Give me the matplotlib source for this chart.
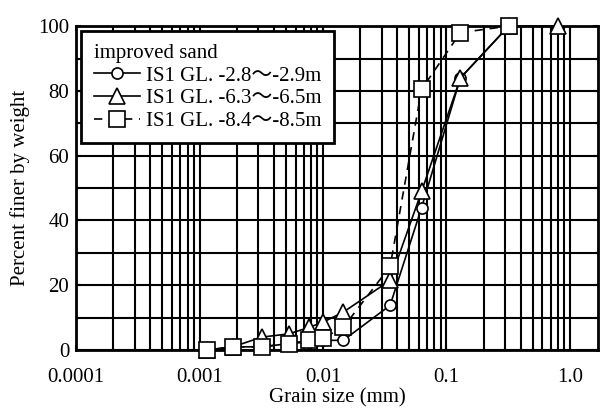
import matplotlib.pyplot as plt
from matplotlib.ticker import FixedLocator, FixedFormatter, LogLocator, MultipleLocator, NullFormatter

plt.rcParams['font.family'] = ['Liberation Serif', 'Noto Sans CJK JP']
plt.rcParams['font.size'] = 15

# Grain size (mm) and percent finer for each sample
grain = [0.00114, 0.00186, 0.0032, 0.0053, 0.0077, 0.010, 0.0146, 0.035, 0.063, 0.13, 0.32]
grain_tri = grain + [0.81]
finer_c = [0, 1, 1, 2, 2.5, 3, 3, 13.8, 44, 84, 100]
finer_t = [0, 1, 4, 5, 7, 8.6, 11.7, 21.5, 49, 84, 100, 100]
finer_s = [0, 1, 1, 2, 3, 3.7, 7, 25.8, 80.5, 98, 100]

labels = ['IS1 GL. -2.8\u301c-2.9m', 'IS1 GL. -6.3\u301c-6.5m', 'IS1 GL. -8.4\u301c-8.5m']
xticks = [0.0001, 0.001, 0.01, 0.1, 1.0]
xtick_labels = ['0.0001', '0.001', '0.01', '0.1', '1.0']

fig = plt.figure(figsize=(6, 4.08), dpi=100)
ax = fig.add_axes([0.127, 0.142, 0.87, 0.794])

ax.plot(grain, finer_c, '-', color='black', lw=1.2, marker='o', ms=8,
        mfc='white', mec='black', mew=1.2, label=labels[0], zorder=3, clip_on=False)
ax.plot(grain_tri, finer_t, '-', color='black', lw=1.2, marker='^', ms=11,
        mfc='white', mec='black', mew=1.2, label=labels[1], zorder=4, clip_on=False)
ax.plot(grain, finer_s, '--', color='black', lw=1.2, marker='s', ms=11,
        mfc='white', mec='black', mew=1.2, label=labels[2], zorder=5, dashes=(5, 4),
        clip_on=False)

ax.set_xscale('log')
ax.set_xlim(1e-4, 1.7)
ax.set_ylim(0, 100)

ax.xaxis.set_major_locator(FixedLocator(xticks))
ax.xaxis.set_major_formatter(FixedFormatter(xtick_labels))
ax.xaxis.set_minor_locator(LogLocator(base=10, subs=range(2, 10), numticks=20))
ax.xaxis.set_minor_formatter(NullFormatter())
ax.yaxis.set_major_locator(MultipleLocator(20))
ax.yaxis.set_minor_locator(MultipleLocator(10))

ax.grid(True, which='both', color='black', lw=1.5)
ax.set_axisbelow(True)
for s in ax.spines.values():
    s.set_linewidth(2)
ax.tick_params(which='both', direction='in', top=True, right=True, width=1.5)
ax.tick_params(axis='x', labelsize=15, pad=13)
ax.tick_params(axis='y', labelsize=15, pad=5)

ax.set_xlabel('Grain size (mm)', fontsize=15, labelpad=1)
ax.set_ylabel('Percent finer by weight', fontsize=15, labelpad=6)

leg = ax.legend(loc='upper left', title='improved sand', fontsize=15, title_fontsize=15,
                frameon=True, fancybox=False, framealpha=1, edgecolor='black',
                handlelength=2.2, handletextpad=0.3, borderpad=0.6, labelspacing=0.15,
                borderaxespad=0.25)
leg._legend_box.align = 'left'
leg.get_frame().set_linewidth(2)

fig.savefig('out.png', dpi=100)
